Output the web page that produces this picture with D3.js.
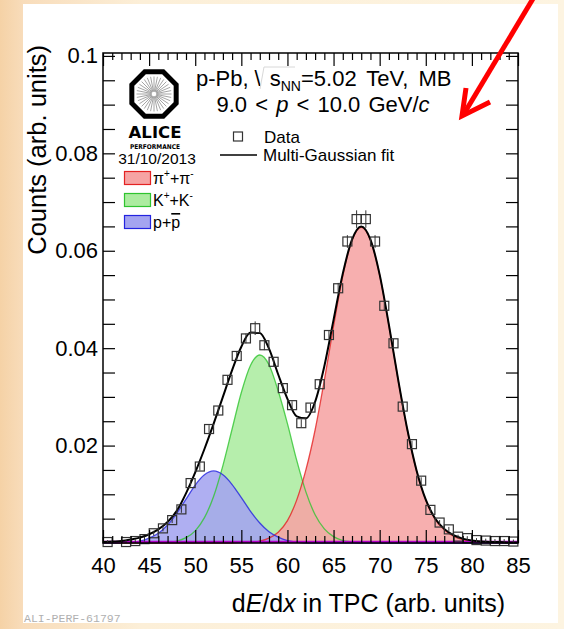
<!DOCTYPE html>
<html>
<head>
<meta charset="utf-8">
<script src="https://cdnjs.cloudflare.com/ajax/libs/d3/7.8.5/d3.min.js"></script>
<style>
  body { margin: 0; }
  text { font-family: "Liberation Sans", Arial, Helvetica, sans-serif; }
  .tick text { font-size: 22px; fill: #000; }
  .tick line { stroke: #000; stroke-width: 1.2; }
</style>
</head>
<body>
<div id="plot"></div>
<script>
// data histogram: bin centres, contents and errors
var dataX = [40.5, 42.5, 43.5, 44.5, 45.5, 46.5, 47.5, 48.5, 49.5, 50.5, 51.5, 52.5, 53.5, 54.5, 55.5,
  56.5, 57.5, 58.5, 59.5, 60.5, 61.5, 62.5, 63.5, 64.5, 65.5, 66.5, 67.5, 68.5, 69.5, 70.5, 71.5,
  72.5, 73.5, 74.5, 75.5, 76.5, 77.5, 78.5, 79.5, 80.5, 81.5, 82.5, 83.5, 84.5];
var dataY = [0.0002, 0.0002, 0.0004, 0.0008, 0.0020, 0.0030, 0.0047, 0.0069, 0.0123, 0.0157, 0.0234,
  0.0272, 0.0335, 0.0384, 0.0420, 0.0441, 0.0406, 0.0372, 0.0318, 0.0283, 0.0246, 0.0278, 0.0326,
  0.0427, 0.0523, 0.0619, 0.0665, 0.0665, 0.0619, 0.0487, 0.0410, 0.0280, 0.0203, 0.0128, 0.0068,
  0.0042, 0.0028, 0.0013, 0.0010, 0.0006, 0.0005, 0.0004, 0.0004, 0.0003];
var dataErr = [0.0004, 0.0004, 0.0004, 0.0005, 0.0005, 0.0006, 0.0006, 0.0007, 0.0007, 0.0008, 0.0008,
  0.0008, 0.0009, 0.0009, 0.0010, 0.0014, 0.0010, 0.0009, 0.0009, 0.0008, 0.0008, 0.0008, 0.0009,
  0.0010, 0.0011, 0.0013, 0.0018, 0.0018, 0.0013, 0.0010, 0.0009, 0.0008, 0.0007, 0.0007, 0.0006,
  0.0005, 0.0005, 0.0004, 0.0004, 0.0004, 0.0004, 0.0004, 0.0004, 0.0004];

// fit components read at every integer dE/dx
var compX = [40, 41, 42, 43, 44, 45, 46, 47, 48, 49, 50, 51, 52, 53, 54, 55, 56, 57, 58, 59, 60, 61, 62,
  63, 64, 65, 66, 67, 68, 69, 70, 71, 72, 73, 74, 75, 76, 77, 78, 79, 80, 81, 82, 83, 84, 85];
var pionY = [0, 0, 0, 0, 0, 0, 0, 0, 0, 0, 0, 0, 0, 0, 0, 0.0001, 0.0002, 0.0004, 0.0010, 0.0022, 0.0046,
  0.0088, 0.0150, 0.0232, 0.0334, 0.0445, 0.0548, 0.0621, 0.0648, 0.0622, 0.0550, 0.0447, 0.0335,
  0.0232, 0.0148, 0.0088, 0.0049, 0.0027, 0.0014, 0.0007, 0.0003, 0.0001, 0, 0, 0, 0];
var kaonY = [0, 0, 0, 0, 0, 0, 0.0001, 0.00015, 0.0004, 0.0011, 0.0025, 0.0052, 0.0096, 0.0159, 0.0234,
  0.0309, 0.0365, 0.0386, 0.0366, 0.0312, 0.0245, 0.0170, 0.0105, 0.0058, 0.0029, 0.0013, 0.0005,
  0.0002, 0, 0, 0, 0, 0, 0, 0, 0, 0, 0, 0, 0, 0, 0, 0, 0, 0, 0];
var protonY = [0, 0, 0.0001, 0.00016, 0.0004, 0.0010, 0.0020, 0.0037, 0.0061, 0.0090, 0.0119, 0.0140,
  0.0148, 0.0140, 0.0120, 0.0093, 0.0065, 0.0041, 0.0023, 0.0012, 0.0005, 0.0002, 0, 0, 0, 0, 0, 0,
  0, 0, 0, 0, 0, 0, 0, 0, 0, 0, 0, 0, 0, 0, 0, 0, 0, 0];
var elecY = [0.0002, 0.0002, 0.0002, 0.0002, 0.0002, 0.0002, 0.0002, 0.0002, 0.0002, 0.0002, 0.0002,
  0.0002, 0.0002, 0.0002, 0.0002, 0.0002, 0.0002, 0.0002, 0.0002, 0.0002, 0.0002, 0.0002, 0.0002,
  0.0002, 0.0002, 0.0002, 0.0002, 0.0002, 0.0002, 0.0002, 0.0002, 0.0002, 0.0002, 0.0002, 0.0002,
  0.0002, 0.0002, 0.0002, 0.0002, 0.0002, 0.0002, 0.0002, 0.0002, 0.0002, 0.0002, 0.0002];
var fitY = [0.0002, 0.0003, 0.0004, 0.0007, 0.0011, 0.0018, 0.0028, 0.0043, 0.0066, 0.0102, 0.0145,
  0.0193, 0.0245, 0.0300, 0.0355, 0.0403, 0.0432, 0.0431, 0.0399, 0.0346, 0.0296, 0.0260, 0.0256,
  0.0290, 0.0363, 0.0458, 0.0553, 0.0623, 0.0650, 0.0623, 0.0551, 0.0448, 0.0336, 0.0233, 0.0149,
  0.0089, 0.0051, 0.0029, 0.0016, 0.0009, 0.0005, 0.0003, 0.0002, 0.0002, 0.0001, 0.0001];

// axis ticks and labels
var xTicks = [40, 45, 50, 55, 60, 65, 70, 75, 80, 85];
var xTickLabels = ["40", "45", "50", "55", "60", "65", "70", "75", "80", "85"];
var yTicks = [0.02, 0.04, 0.06, 0.08, 0.1];
var yTickLabels = ["0.02", "0.04", "0.06", "0.08", "0.1"];

var svgWidth = 564;
var svgHeight = 629;
var margin = { top: 53, right: 46, bottom: 86, left: 103 };
var width = svgWidth - margin.left - margin.right;
var height = svgHeight - margin.top - margin.bottom;

var svg = d3.select("#plot")
  .append("svg")
  .attr("width", svgWidth)
  .attr("height", svgHeight);

// slide background: peach on the left, cream elsewhere
var defs = svg.append("defs");
var grad = defs.append("linearGradient").attr("id", "bg").attr("x1", 0).attr("y1", 0).attr("x2", 1).attr("y2", 0);
grad.append("stop").attr("offset", "0").attr("stop-color", "#f5d2a6");
grad.append("stop").attr("offset", "0.04").attr("stop-color", "#f8dcba");
grad.append("stop").attr("offset", "0.25").attr("stop-color", "#fcefd8");
grad.append("stop").attr("offset", "1").attr("stop-color", "#fdf4e1");
svg.append("rect").attr("width", svgWidth).attr("height", svgHeight).attr("fill", "url(#bg)");
svg.append("rect").attr("x", 23).attr("y", 4).attr("width", 535).attr("height", 619).attr("fill", "#fff");

var chartGroup = svg.append("g").attr("transform", `translate(${margin.left}, ${margin.top})`);

var x = d3.scaleLinear().domain([40, 85]).range([0, width]);
var y = d3.scaleLinear().domain([0, 0.1006]).range([height, 0]);

// the three particle species, later ones drawn on top
var species = [
  { vals: kaonY, fill: "rgb(172,236,160)", line: "#2fc42f" },
  { vals: pionY, fill: "rgb(246,164,164)", line: "#e32222" },
  { vals: protonY, fill: "rgb(164,164,240)", line: "#2323e0" }
];
var area = d3.area()
  .x((d, i) => x(compX[i]))
  .y0(y(0))
  .y1(d => y(d))
  .curve(d3.curveMonotoneX);
var line = d3.line()
  .x((d, i) => x(compX[i]))
  .y(d => y(d))
  .curve(d3.curveMonotoneX);

species.forEach(function(s) {
  chartGroup.append("path")
    .attr("d", area(s.vals))
    .attr("fill", s.fill)
    .attr("fill-opacity", 0.88);
});
species.forEach(function(s) {
  chartGroup.append("path")
    .attr("d", line(s.vals))
    .attr("fill", "none")
    .attr("stroke", s.line)
    .attr("stroke-opacity", 0.8)
    .attr("stroke-width", 1.3);
});

// electron-ish component sits on the axis
chartGroup.append("path")
  .attr("d", line(elecY))
  .attr("fill", "none")
  .attr("stroke", "#b000c8")
  .attr("stroke-width", 2.5);

// multi-gaussian fit
chartGroup.append("path")
  .attr("d", line(fitY))
  .attr("fill", "none")
  .attr("stroke", "#000")
  .attr("stroke-width", 2);

// data points with errors
var points = dataX.map((d, i) => ({ x: d, y: dataY[i], e: dataErr[i] }));
chartGroup.selectAll("line.err")
  .data(points)
  .enter()
  .append("line")
  .attr("class", "err")
  .attr("x1", d => x(d.x))
  .attr("x2", d => x(d.x))
  .attr("y1", d => y(Math.max(d.y - d.e, 0)))
  .attr("y2", d => y(d.y + d.e))
  .attr("stroke", "#333")
  .attr("stroke-width", 1);
chartGroup.selectAll("rect.pt")
  .data(points)
  .enter()
  .append("rect")
  .attr("class", "pt")
  .attr("x", d => x(d.x) - 4.5)
  .attr("y", d => y(d.y) - 4.5)
  .attr("width", 9)
  .attr("height", 9)
  .attr("fill", "none")
  .attr("stroke", "#333")
  .attr("stroke-width", 1.2);

// axes, root style ticks on all four sides
var xMinor = d3.range(40, 86, 1).filter(v => v % 5 !== 0);
var yMinor = d3.range(1, 21).map(v => v * 0.005).filter((v, i) => (i + 1) % 4 !== 0);
var yAll = d3.range(1, 21).map(v => v * 0.005);

function noDomain(g) { g.select(".domain").remove(); }

chartGroup.append("g")
  .attr("transform", `translate(0, ${height})`)
  .call(d3.axisBottom(x).tickValues(xTicks).tickSize(-13).tickPadding(14).tickFormat((d, i) => xTickLabels[i]))
  .call(noDomain);
chartGroup.append("g")
  .attr("transform", `translate(0, ${height})`)
  .call(d3.axisBottom(x).tickValues(xMinor).tickSize(-7).tickFormat(""))
  .call(noDomain);
chartGroup.append("g")
  .call(d3.axisTop(x).tickValues(xTicks).tickSize(-13).tickFormat(""))
  .call(noDomain);
chartGroup.append("g")
  .call(d3.axisTop(x).tickValues(xMinor).tickSize(-7).tickFormat(""))
  .call(noDomain);
chartGroup.append("g")
  .call(d3.axisLeft(y).tickValues(yTicks).tickSize(-12).tickPadding(5).tickFormat((d, i) => yTickLabels[i]))
  .call(noDomain);
chartGroup.append("g")
  .call(d3.axisLeft(y).tickValues(yMinor).tickSize(-12).tickFormat(""))
  .call(noDomain);
chartGroup.append("g")
  .attr("transform", `translate(${width}, 0)`)
  .call(d3.axisRight(y).tickValues(yAll).tickSize(-12).tickFormat(""))
  .call(noDomain);

chartGroup.append("rect")
  .attr("width", width)
  .attr("height", height)
  .attr("fill", "none")
  .attr("stroke", "#000")
  .attr("stroke-width", 1.5);

// axis titles
svg.append("text")
  .attr("transform", "rotate(-90)")
  .attr("x", -45)
  .attr("y", 46)
  .attr("text-anchor", "end")
  .attr("font-size", 25.5)
  .text("Counts (arb. units)");

var xt = svg.append("text")
  .attr("x", 505)
  .attr("y", 612)
  .attr("text-anchor", "end")
  .attr("font-size", 25);
xt.append("tspan").text("d");
xt.append("tspan").attr("font-style", "italic").text("E");
xt.append("tspan").text("/d");
xt.append("tspan").attr("font-style", "italic").text("x");
xt.append("tspan").text(" in TPC (arb. units)");

// header lines
var h1 = svg.append("text").attr("x", 196).attr("y", 86).attr("font-size", 22).attr("word-spacing", 4);
h1.append("tspan").text("p-Pb,");
h1.append("tspan").attr("dx", 6).text("\\");
h1.append("tspan").attr("dx", 9).text("s");
h1.append("tspan").attr("font-size", 14).attr("dy", 5).text("NN");
h1.append("tspan").attr("dy", -5).text("=5.02 TeV, MB");
// faint radical stroke of the broken square root
svg.append("path").attr("d", "M260,89 L264,67 L295,67")
  .attr("fill", "none").attr("stroke", "#d8d8d8").attr("stroke-width", 1);

var h2 = svg.append("text").attr("x", 323).attr("y", 112).attr("text-anchor", "middle")
  .attr("font-size", 22).attr("word-spacing", 2);
h2.append("tspan").text("9.0 < ");
h2.append("tspan").attr("font-style", "italic").text("p");
h2.append("tspan").text(" < 10.0 GeV/");
h2.append("tspan").attr("font-style", "italic").text("c");

// data / fit legend
svg.append("rect").attr("x", 233.5).attr("y", 132).attr("width", 9).attr("height", 9)
  .attr("fill", "none").attr("stroke", "#333").attr("stroke-width", 1.2);
svg.append("text").attr("x", 264).attr("y", 143).attr("font-size", 17).text("Data");
svg.append("line").attr("x1", 220).attr("x2", 257).attr("y1", 155).attr("y2", 155)
  .attr("stroke", "#000").attr("stroke-width", 1.6);
svg.append("text").attr("x", 263).attr("y", 161).attr("font-size", 17).text("Multi-Gaussian fit");

// ALICE logo
var logo = svg.append("g").attr("transform", "translate(154, 94)");
var octo = d3.range(8).map(function(k) {
  var a = Math.PI / 8 + k * Math.PI / 4;
  return [24 * Math.cos(a), 24 * Math.sin(a)];
});
logo.append("polygon")
  .attr("points", octo.map(p => p.join(",")).join(" "))
  .attr("fill", "#fff")
  .attr("stroke", "#000")
  .attr("stroke-width", 5)
  .attr("stroke-linejoin", "miter");
d3.range(32).forEach(function(k) {
  var a = k * Math.PI / 16;
  logo.append("line")
    .attr("x1", 2.5 * Math.cos(a)).attr("y1", 2.5 * Math.sin(a))
    .attr("x2", 17.5 * Math.cos(a)).attr("y2", 17.5 * Math.sin(a))
    .attr("stroke", "#9a9a9a").attr("stroke-width", 0.9);
});
svg.append("text").attr("x", 155).attr("y", 137.5).attr("text-anchor", "middle")
  .attr("font-size", 16.5).attr("font-weight", "bold").style("font-family", "'DejaVu Sans', sans-serif")
  .text("ALICE");
svg.append("text").attr("x", 155).attr("y", 148.5).attr("text-anchor", "middle")
  .attr("font-size", 6.5).attr("font-weight", "bold").style("font-family", "'DejaVu Sans', sans-serif")
  .attr("textLength", 50).attr("lengthAdjust", "spacingAndGlyphs")
  .text("PERFORMANCE");
svg.append("text").attr("x", 157).attr("y", 163.5).attr("text-anchor", "middle")
  .attr("font-size", 15.5).text("31/10/2013");

// species legend: [text, kind] where kind 1 = superscript, 2 = overlined
var legendRows = [
  { sp: species[1], cy: 178, parts: [["π", 0], ["+", 1], ["+π", 0], ["-", 1]] },
  { sp: species[0], cy: 200, parts: [["K", 0], ["+", 1], ["+K", 0], ["-", 1]] },
  { sp: species[2], cy: 222, parts: [["p+", 0], ["p", 2]] }
];
legendRows.forEach(function(r) {
  svg.append("rect").attr("x", 124.5).attr("y", r.cy - 6.5).attr("width", 26).attr("height", 13)
    .attr("fill", r.sp.fill).attr("stroke", r.sp.line).attr("stroke-width", 1.2);
  var t = svg.append("text").attr("x", 153).attr("y", r.cy + 6).attr("font-size", 16);
  var raised = false;
  r.parts.forEach(function(p) {
    var ts = t.append("tspan").text(p[0]);
    if (p[1] === 1) {
      ts.attr("font-size", 10).attr("dy", -7);
      raised = true;
    } else {
      if (raised) { ts.attr("dy", 7); raised = false; }
      if (p[1] === 2) ts.style("text-decoration", "overline");
    }
  });
});

// red arrow annotation
svg.append("line").attr("x1", 534).attr("y1", -3).attr("x2", 465).attr("y2", 112)
  .attr("stroke", "#f00").attr("stroke-width", 5);
svg.append("polyline").attr("points", "466,88 462,116 490,102")
  .attr("fill", "none").attr("stroke", "#f00").attr("stroke-width", 5).attr("stroke-linejoin", "miter");

// figure id
svg.append("text").attr("x", 24).attr("y", 622).attr("font-size", 11.5)
  .style("font-family", "'Liberation Mono', 'DejaVu Sans Mono', monospace")
  .attr("fill", "#b0b0b0").text("ALI-PERF-61797");
</script>
</body>
</html>
